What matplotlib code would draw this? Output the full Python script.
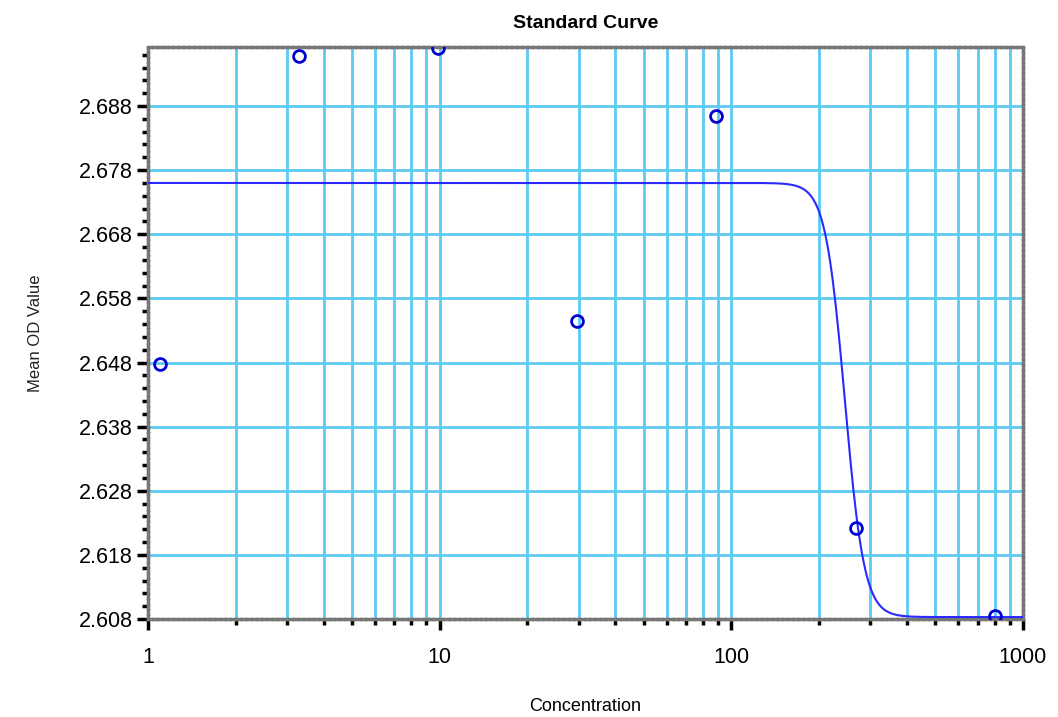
import matplotlib.pyplot as plt
import numpy as np
from matplotlib.ticker import FixedLocator, MultipleLocator, NullFormatter

# measured standards (3-fold dilution series)
conc = [800 / 729, 800 / 243, 800 / 81, 800 / 27, 800 / 9, 800 / 3, 800]
mean_od = [2.6478, 2.6958, 2.6970, 2.6545, 2.6864, 2.6222, 2.6085]

# 4PL fit parameters
fit_top = 2.6760
fit_bottom = 2.6083
fit_ec50 = 245.0
fit_slope = 13.0

yticks = [2.608, 2.618, 2.628, 2.638, 2.648, 2.658, 2.668, 2.678, 2.688]
xticks = [1, 10, 100, 1000]
xticklabels = ['1', '10', '100', '1000']

plt.rcParams['font.family'] = ['Liberation Sans', 'DejaVu Sans']

fig = plt.figure(figsize=(10.58, 7.17), dpi=100)
ax = fig.add_axes([0.1399, 0.1367, 0.8270, 0.7977])

xs = np.logspace(0, 3, 600)
fit = fit_bottom + (fit_top - fit_bottom) / (1 + (xs / fit_ec50) ** fit_slope)
ax.plot(xs, fit, color='#2a2aff', lw=1.5, zorder=3)
ax.plot(conc, mean_od, 'o', ms=8.5, mfc='none', mec='#0000d0', mew=2, zorder=4)

ax.set_xscale('log')
ax.set_xlim(1, 1000)
ax.set_ylim(2.608, 2.6972)

ax.xaxis.set_major_locator(FixedLocator(xticks))
ax.set_xticklabels(xticklabels)
minor_x = [m * 10 ** e for e in range(3) for m in range(2, 10)]
ax.xaxis.set_minor_locator(FixedLocator(minor_x))
ax.xaxis.set_minor_formatter(NullFormatter())
ax.yaxis.set_major_locator(FixedLocator(yticks))
ax.set_yticklabels(['%.3f' % v for v in yticks])
ax.yaxis.set_minor_locator(MultipleLocator(0.002))

grid_col = '#5ccbf2'
ax.grid(True, which='major', color=grid_col, lw=2.0, ls='-', zorder=1)
ax.grid(True, which='minor', axis='x', color=grid_col, lw=2.0, ls='-', zorder=1)

ax.tick_params(axis='both', which='major', direction='out', length=8, width=2.5,
               labelsize=15.5, colors='black')
ax.tick_params(axis='both', which='minor', direction='out', length=4, width=2.5)
ax.tick_params(axis='x', which='major', pad=12)
ax.tick_params(axis='y', which='major', pad=3)

for side in ax.spines.values():
    side.set_color('#777777')
    side.set_linewidth(2.5)
    side.set_linestyle((0, (1, 0.5)))

ax.set_title('Standard Curve', fontsize=14, fontweight='bold', pad=14)
ax.set_xlabel('Concentration', fontsize=13, labelpad=22)
ax.set_ylabel('Mean OD Value', fontsize=12, labelpad=26, color='#222222')

fig.savefig('out.png', dpi=100)
